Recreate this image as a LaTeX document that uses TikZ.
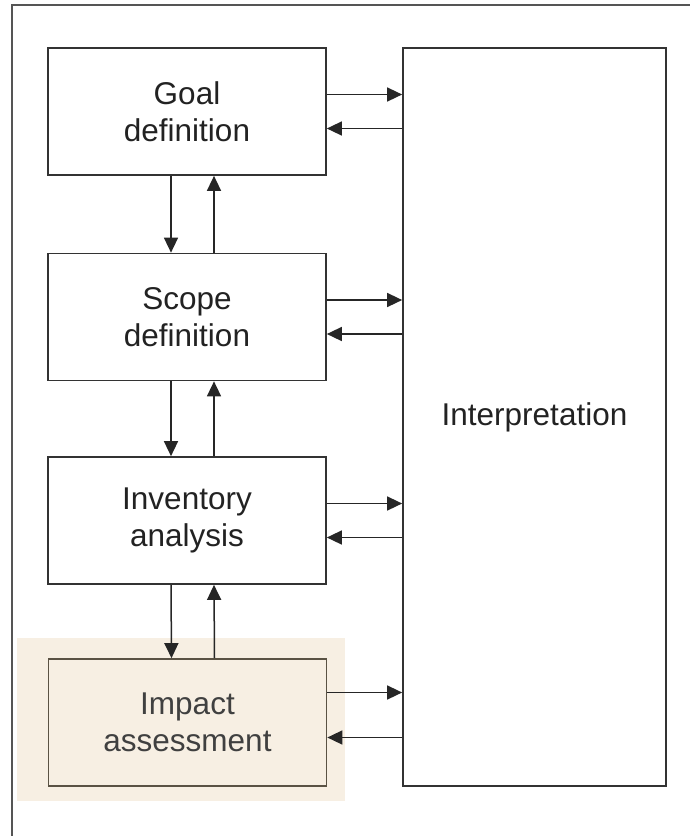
\documentclass[tikz,border=0pt]{standalone}
\usepackage{fontspec}
\setmainfont{Liberation Sans}
\usetikzlibrary{arrows.meta}
\definecolor{framegray}{HTML}{555555}
\definecolor{boxgray}{HTML}{333333}
\definecolor{impactedge}{HTML}{5A5244}
\definecolor{impactfill}{HTML}{F7EFE3}
\definecolor{textdark}{HTML}{222222}
\begin{document}
\begin{tikzpicture}[x=0.5pt,y=-0.5pt,
  stagebox/.style={draw=boxgray, line width=0.85pt, minimum width=139pt, minimum height=63.5pt,
    inner sep=0pt, align=center, text=textdark,
    font=\fontsize{15.75pt}{18.5pt}\selectfont},
  link/.style={draw=black!85, line width=0.75pt, -{Triangle[length=7.5pt,width=7pt]}}]
  \useasboundingbox (0,0) rectangle (690,836);
  % outer frame (only its top and left edges fall on the page)
  \draw[framegray, line width=1pt] (12,900) -- (12,5) -- (760,5);
  % shaded band behind the impact stage
  \fill[impactfill] (17,638) rectangle (345,801);

  \node[stagebox] (goal)  at (187,111.5) {Goal\\definition};
  \node[stagebox] (scope) at (187,317)   {Scope\\definition};
  \node[stagebox] (inv)   at (187,520.5) {Inventory\\analysis};
  \node[stagebox, draw=impactedge, fill=impactfill, text=black!75] (impact) at (187.5,722.5) {Impact\\assessment};
  \node[stagebox, minimum width=131.5pt, minimum height=369pt] (interp) at (534.5,417) {Interpretation};

  % vertical links between consecutive stages
  \foreach \a/\b in {goal/scope, scope/inv, inv/impact}{
    \draw[link] ([xshift=-8pt]\a.south) -- ([xshift=-8pt]\b.north);
    \draw[link] ([xshift=13.5pt]\b.north) -- ([xshift=13.5pt]\a.south);
  }
  % links to and from the interpretation
  \foreach \s in {goal, scope, inv}{
    \draw[link] ([yshift=8.5pt]\s.east) -- ([yshift=8.5pt]\s.east -| interp.west);
    \draw[link] ([yshift=-8.5pt]\s.east -| interp.west) -- ([yshift=-8.5pt]\s.east);
  }
  \draw[link] ([yshift=15pt]impact.east) -- ([yshift=15pt]impact.east -| interp.west);
  \draw[link] ([yshift=-7.5pt]impact.east -| interp.west) -- ([yshift=-7.5pt]impact.east);
\end{tikzpicture}
\end{document}
